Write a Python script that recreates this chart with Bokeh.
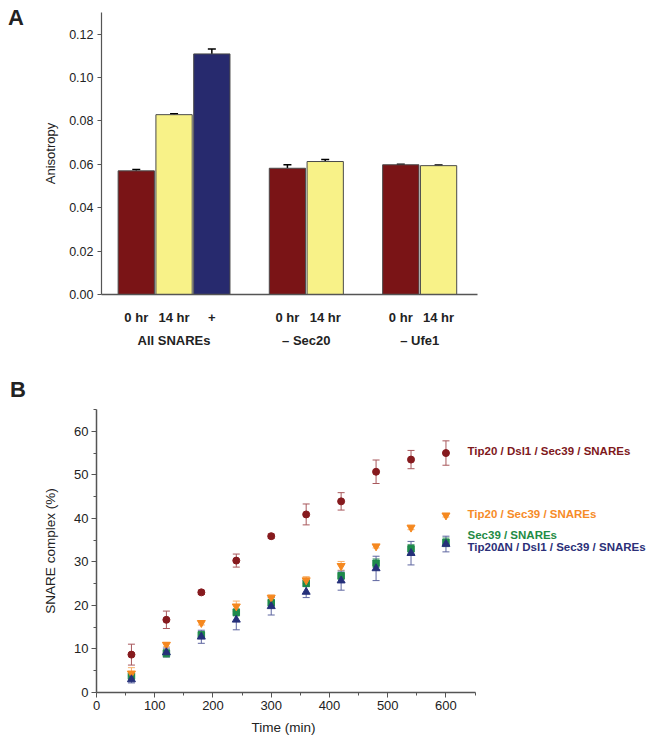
from bokeh.plotting import figure
from bokeh.models import (ColumnDataSource, Range1d, Whisker, TeeHead, Label, Div, Title,
                          FixedTicker, NumeralTickFormatter, LinearAxis)
from bokeh.layouts import column, row
from bokeh.embed import file_html
from bokeh.resources import INLINE

FONT = "Liberation Sans"

# ---------------- Panel A data ----------------
groups = ["All SNAREs", "– Sec20", "– Ufe1"]
conditions = [["0 hr", "14 hr", "+"], ["0 hr", "14 hr"], ["0 hr", "14 hr"]]
anisotropy = [0.0570, 0.0829, 0.1109, 0.0582, 0.0613, 0.0598, 0.0594]
anisotropy_err = [0.0006, 0.0004, 0.0023, 0.0016, 0.0009, 0.0003, 0.0003]
bar_colors = ["#7A1416", "#F8F288", "#272A6E", "#7A1416", "#F8F288", "#7A1416", "#F8F288"]
y_ticks_a = [0, 0.02, 0.04, 0.06, 0.08, 0.10, 0.12]

# ---------------- Panel B data ----------------
time_min = [60, 120, 180, 240, 300, 360, 420, 480, 540, 600]
full = [8.7, 16.7, 23.0, 30.3, 35.9, 40.9, 43.9, 50.7, 53.5, 55.0]
full_err = [2.4, 2.0, 0.5, 1.5, 0.5, 2.4, 2.0, 2.7, 2.1, 2.8]
tip_sec = [4.4, 11.0, 16.0, 19.8, 21.8, 25.8, 29.1, 33.6, 37.9, 40.7]
tip_sec_err = [1.3, 0.5, 0.5, 1.2, 0.6, 0.8, 1.0, 0.4, 0.5, 0.4]
sec = [3.8, 9.0, 13.2, 18.4, 20.6, 25.1, 26.8, 29.7, 33.0, 34.5]
sec_err = [1.0, 0.9, 0.8, 0.8, 0.8, 0.8, 0.8, 1.0, 1.0, 1.0]
dn = [3.0, 9.2, 12.8, 16.7, 19.8, 23.1, 25.7, 28.5, 32.0, 34.1]
dn_err = [0.8, 1.0, 1.5, 2.3, 2.0, 1.3, 2.2, 2.8, 2.7, 1.8]

series_names = ["Tip20 / Dsl1 / Sec39 / SNAREs", "Sec39 / SNAREs",
                "Tip20 / Sec39 / SNAREs", "Tip20\u2206N / Dsl1 / Sec39 / SNAREs"]
label_y = [55.4, 36.2, 41.0, 33.5]
x_ticks_b = [0, 100, 200, 300, 400, 500, 600]
y_ticks_b = [0, 10, 20, 30, 40, 50, 60]

# ---------------- Panel A ----------------
# bar positions: 2 units per bar, one empty bar slot between groups
positions, tick_labels, group_centers = [], {}, []
slot = 0
for conds in conditions:
    first = slot
    for c in conds:
        positions.append(slot * 2)
        tick_labels[slot * 2] = c
        slot += 1
    group_centers.append(first + slot - 1)
    slot += 1
group_labels = {c: g for c, g in zip(group_centers, groups)}

p1 = figure(width=630, height=372, output_backend="svg", toolbar_location=None,
            x_range=Range1d(-1.84, 18.06), y_range=Range1d(0, 0.13),
            min_border_left=57, min_border_right=193, min_border_top=12, min_border_bottom=78)
srcA = ColumnDataSource(dict(x=positions, top=anisotropy, color=bar_colors,
                             upper=[a + e for a, e in zip(anisotropy, anisotropy_err)]))
p1.vbar(x="x", top="top", width=1.92, fill_color="color", line_color="#4a4a4a",
        line_width=1, source=srcA)
p1.add_layout(Whisker(base="x", lower="top", upper="upper", source=srcA,
                      line_color="black", line_width=1.5, lower_head=None,
                      upper_head=TeeHead(size=8, line_color="black", line_width=1.5)))
p1.xgrid.visible = False
p1.ygrid.visible = False
p1.outline_line_color = None

ya = p1.yaxis[0]
ya.ticker = FixedTicker(ticks=y_ticks_a)
ya.formatter = NumeralTickFormatter(format="0.00")
ya.minor_tick_line_color = None
ya.major_tick_out = 4
ya.major_tick_in = 0
ya.axis_line_color = "#555555"
ya.major_tick_line_color = "#555555"
ya.axis_line_width = 1.2
ya.major_label_text_font = FONT
ya.major_label_text_font_size = "12.5px"
ya.major_label_text_color = "#222222"
ya.major_label_standoff = 4
ya.axis_label = "Anisotropy"
ya.axis_label_text_font = FONT
ya.axis_label_text_font_size = "13px"
ya.axis_label_text_font_style = "normal"
ya.axis_label_text_color = "#222222"
ya.axis_label_standoff = 8

xa = p1.xaxis[0]
xa.ticker = FixedTicker(ticks=positions)
xa.major_label_overrides = tick_labels
xa.axis_line_color = "#555555"
xa.axis_line_width = 1.5
xa.major_tick_line_color = None
xa.minor_tick_line_color = None
xa.major_tick_out = 0
xa.major_tick_in = 0
xa.major_label_text_font = FONT
xa.major_label_text_font_size = "13px"
xa.major_label_text_font_style = "bold"
xa.major_label_text_color = "#222222"
xa.major_label_standoff = 15

xg = LinearAxis(ticker=FixedTicker(ticks=group_centers), major_label_overrides=group_labels,
                axis_line_color=None, major_tick_line_color=None, minor_tick_line_color=None,
                major_tick_out=0, major_tick_in=0, major_label_standoff=5,
                major_label_text_font=FONT, major_label_text_font_size="13px",
                major_label_text_font_style="bold", major_label_text_color="#222222")
p1.add_layout(xg, "below")

# ---------------- Panel B ----------------
p2 = figure(width=630, height=370, output_backend="svg", toolbar_location=None,
            x_range=Range1d(0, 985.5), y_range=Range1d(0, 65),
            min_border_left=54, min_border_right=0, min_border_top=37, min_border_bottom=50)
p2.xgrid.visible = False
p2.ygrid.visible = False
p2.outline_line_color = None

series = [
    (full, full_err, "circle", 7, "#861A1E", "#A8585C", "#7E181C"),
    (sec, sec_err, "square", 6.5, "#1E8A4C", "#5DA87A", "#1E8B45"),
    (tip_sec, tip_sec_err, "inverted_triangle", 8, "#F5881F", "#F7AE66", "#F68B28"),
    (dn, dn_err, "triangle", 8, "#25307A", "#5E66A0", "#2B2F78"),
]
for (vals, errs, marker, size, color, ecolor, tcolor), name, ly in zip(series, series_names, label_y):
    src = ColumnDataSource(dict(t=time_min, v=vals,
                                lo=[a - e for a, e in zip(vals, errs)],
                                hi=[a + e for a, e in zip(vals, errs)]))
    p2.add_layout(Whisker(base="t", lower="lo", upper="hi", source=src,
                          line_color=ecolor, line_width=1,
                          lower_head=TeeHead(size=7, line_color=ecolor, line_width=1),
                          upper_head=TeeHead(size=7, line_color=ecolor, line_width=1)))
    p2.scatter("t", "v", marker=marker, size=size, fill_color=color, line_color=color, source=src)
    p2.add_layout(Label(x=637, y=ly, text=name, text_font=FONT, text_font_size="11.5px",
                        text_font_style="bold", text_color=tcolor, text_baseline="middle"))

xb = p2.xaxis[0]
xb.ticker = FixedTicker(ticks=x_ticks_b, minor_ticks=[50, 150, 250, 350, 450, 550, 650])
xb.bounds = (0, 650)
yb = p2.yaxis[0]
yb.ticker = FixedTicker(ticks=y_ticks_b, minor_ticks=[5, 15, 25, 35, 45, 55, 65])
for ax in (xb, yb):
    ax.axis_line_color = "#555555"
    ax.axis_line_width = 1.5
    ax.major_tick_line_color = "#555555"
    ax.minor_tick_line_color = "#555555"
    ax.major_tick_out = 5
    ax.major_tick_in = 0
    ax.minor_tick_out = 3
    ax.minor_tick_in = 0
    ax.major_label_text_font = FONT
    ax.major_label_text_font_size = "13px"
    ax.major_label_text_color = "#222222"
    ax.major_label_standoff = 3
    ax.axis_label_text_font = FONT
    ax.axis_label_text_font_size = "13.5px"
    ax.axis_label_text_font_style = "normal"
    ax.axis_label_text_color = "#222222"
yb.axis_label = "SNARE complex (%)"
yb.axis_label_standoff = 13

# x-axis title, centred under the 0–650 part of the axis
p2.add_layout(Title(text="Time (min)", align="left", offset=155, standoff=10,
                    text_font=FONT, text_font_size="13.5px", text_font_style="normal",
                    text_color="#222222", vertical_align="bottom"), "below")


def panel_letter(letter, top, left):
    return Div(text=(f'<div style="font-family:\'{FONT}\';font-weight:bold;font-size:22px;'
                     f'line-height:1;color:#222222;margin:{top}px 0 0 {left}px">{letter}</div>'),
               width=40, height=40, margin=(0, 0, 0, 0))


layout = column(row(panel_letter("A", 7, 8), p1, spacing=0),
                row(panel_letter("B", 7, 10), p2, spacing=0), spacing=0)
open("out.html", "w").write(file_html(layout, INLINE))
